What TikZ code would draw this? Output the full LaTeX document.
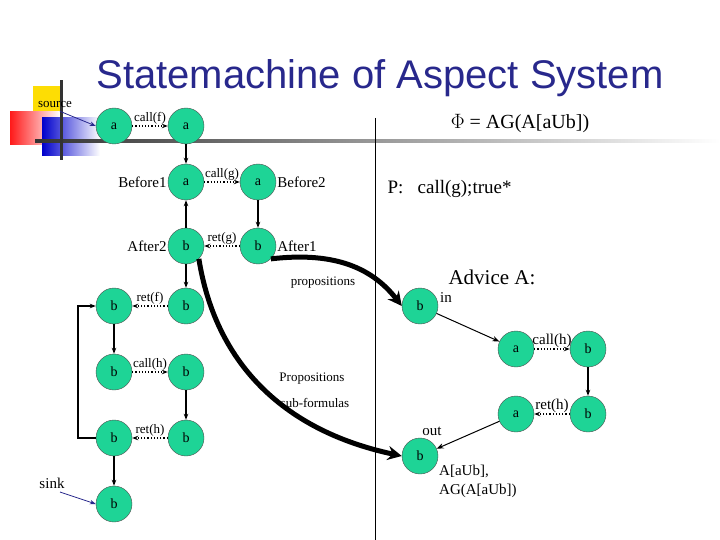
\documentclass[tikz,border=0pt]{standalone}
\usepackage{fontspec}
\setmainfont{Liberation Serif}
\newfontfamily\titlefont{Liberation Sans}
\usetikzlibrary{arrows.meta}
\definecolor{stc}{RGB}{30,212,150}
\definecolor{ttl}{RGB}{40,40,140}
\tikzset{
 st/.style={circle,draw=black!70,fill=stc,minimum size=36pt,inner sep=0pt,font=\fontsize{14}{14}\selectfont},
 tr/.style={-{Stealth[length=6pt]},line width=1.2pt},
 dt/.style={-{Stealth[length=6pt]},dotted,line width=1.2pt},
 thin/.style={-{Stealth[length=7pt]},line width=1pt},
 thick/.style={-{Stealth[length=14pt,width=14pt]},line width=5pt},
 lb/.style={font=\fontsize{13}{13}\selectfont,inner sep=1pt},
 lbb/.style={font=\fontsize{15}{15}\selectfont,inner sep=1pt}
}
\begin{document}
\begin{tikzpicture}[x=1pt,y=-1pt]
\useasboundingbox (0,0) rectangle (720,540);
% decoration
\fill[yellow!80!orange] (33,86) rectangle (63,112);
\shade[left color=red!90,right color=white] (10,112) rectangle (60,145);
\shade[left color=blue!80!black,right color=white] (42,118) rectangle (100,156);
\shade[left color=black!80,right color=white] (35,140) rectangle (720,143);
\fill[black!80] (60,80) rectangle (63,160);
\node[font=\titlefont\fontsize{40}{40}\selectfont,text=ttl] (title) at (380,78) {Statemachine of Aspect System};
% left machine
\node[st] (a1) at (114,126) {a};
\node[st] (a2) at (186,126) {a};
\node[st] (bf1) at (186,182) {a};
\node[st] (bf2) at (258,182) {a};
\node[st] (af2) at (186,246) {b};
\node[st] (af1) at (258,246) {b};
\node[st] (l1) at (114,306) {b};
\node[st] (r1) at (186,306) {b};
\node[st] (l2) at (114,372) {b};
\node[st] (r2) at (186,372) {b};
\node[st] (l3) at (114,438) {b};
\node[st] (r3) at (186,438) {b};
\node[st] (sk) at (114,504) {b};
\draw[dt] (a1) -- node[lb,above]{call(f)} (a2);
\draw[tr] (a2) -- (bf1);
\draw[dt] (bf1) -- node[lb,above]{call(g)} (bf2);
\draw[tr] (bf2) -- (af1);
\draw[dt] (af1) -- node[lb,above]{ret(g)} (af2);
\draw[tr] (af2) -- (bf1);
\draw[tr] (af2) -- (r1);
\draw[dt] (r1) -- node[lb,above]{ret(f)} (l1);
\draw[tr] (l1) -- (l2);
\draw[dt] (l2) -- node[lb,above]{call(h)} (r2);
\draw[tr] (r2) -- (r3);
\draw[dt] (r3) -- node[lb,above]{ret(h)} (l3);
\draw[tr] (l3) -- (sk);
\draw[tr] (l3.west) -- (78,438) -- (78,306) -- (l1.west);
\node[lbb,left] (t1) at (bf1.west) {Before1};
\node[lbb,right] (t2) at (bf2.east) {Before2};
\node[lbb,left] (t3) at (af2.west) {After2};
\node[lbb,right] (t4) at (af1.east) {After1};
\node[lb] (src) at (55,105) {source};
\draw[-{Stealth[length=6pt]},draw=ttl,line width=0.8pt] (src.south) ++(5,2) coordinate (s0) -- (a1.west);
\node[lbb] (snk) at (52,483) {sink};
\coordinate (k0) at (60,492);
\draw[-{Stealth[length=6pt]},draw=ttl,line width=0.8pt] (k0) -- (sk.west);
% separator
\draw[line width=1pt] (375,118) -- (375,540);
\node[font=\fontsize{20}{20}\selectfont] (phi) at (520,124) {$\Phi$ = AG(A[aUb])};
\node[font=\fontsize{19}{19}\selectfont,anchor=west] (p) at (384,189) {P:\ \ \ call(g);true*};
\node[font=\fontsize{21}{21}\selectfont] (adv) at (492,277) {Advice A:};
% advice
\node[st] (in) at (420,306) {b};
\node[st] (aa1) at (516,349) {a};
\node[st] (ab1) at (588,349) {b};
\node[st] (ab2) at (588,414) {b};
\node[st] (aa2) at (516,414) {a};
\node[st] (out) at (420,456) {b};
\draw[thin] (in) -- (aa1);
\draw[dt] (aa1) -- node[lbb,above]{call(h)} (ab1);
\draw[tr] (ab1) -- (ab2);
\draw[dt] (ab2) -- node[lbb,above]{ret(h)} (aa2);
\draw[thin] (aa2) -- (out);
\node[lbb] (inl) at (446,298) {in};
\node[lbb] (outl) at (432,431) {out};
\node[lbb,anchor=west] (f1) at (438,471) {A[aUb],};
\node[lbb,anchor=west] (f2) at (438,491) {AG(A[aUb])};
% thick arrows
\draw[thick] (af1.south east) .. controls (330,252) and (370,265) .. (in.west);
\draw[thick] (af2.south east) .. controls (215,360) and (280,430) .. (out.west);
\node[lb] (pr) at (323,283) {propositions};
\node[lb] (pr2) at (312,379) {Propositions};
\node[lb] (sf) at (315,403) {sub-formulas};
\end{tikzpicture}
\end{document}
